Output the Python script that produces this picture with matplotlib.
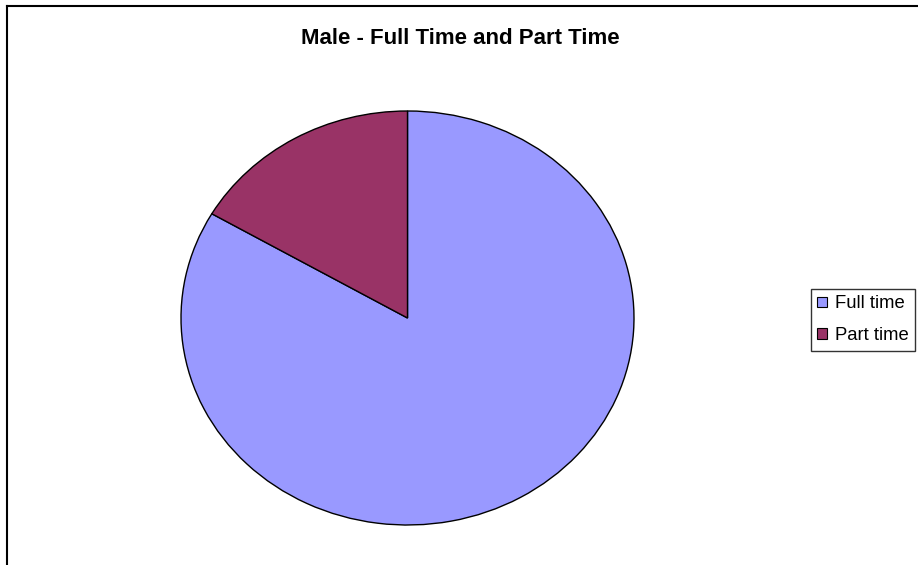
import matplotlib
matplotlib.use("Agg")
import matplotlib.pyplot as plt
from matplotlib.patches import Patch
from matplotlib.lines import Line2D

# ---- data ----
LABELS = ["Full time", "Part time"]
SHARES = [83.4, 16.6]          # percent
COLORS = ["#9999FF", "#993366"]
TITLE = "Male - Full Time and Part Time"

W, H = 918, 565
plt.rcParams["font.family"] = ["Liberation Sans", "DejaVu Sans"]
fig = plt.figure(figsize=(W / 100, H / 100), dpi=100)

# pie axes placed to match the stretched (elliptical) Excel pie
left, right, top, bottom = 181, 634, 111, 525
ax = fig.add_axes([left / W, 1 - bottom / H, (right - left) / W, (bottom - top) / H])
ax.pie(SHARES, colors=COLORS, startangle=90, counterclock=False,
       wedgeprops=dict(edgecolor="black", linewidth=1.0))
ax.set_aspect("auto")
ax.set_xlim(-1, 1)
ax.set_ylim(-1, 1)
ax.axis("off")

fig.text(460 / W, 1 - 38 / H, TITLE, ha="center", va="center",
         fontsize=16, fontweight="bold")

# chart-area border (only top and left visible, rest is cropped)
fig.add_artist(Line2D([7 / W, 1], [1 - 6 / H, 1 - 6 / H], color="black", lw=1.5))
fig.add_artist(Line2D([7 / W, 7 / W], [0, 1 - 6 / H], color="black", lw=1.5))

handles = [Patch(facecolor=c, edgecolor="black", lw=0.8) for c in COLORS]
leg = fig.legend(handles, LABELS, loc="upper left",
                 bbox_to_anchor=(811 / W, 1 - 289 / H), borderaxespad=0,
                 fontsize=13.3, handlelength=0.5, handleheight=0.5,
                 handletextpad=0.45, borderpad=0.35, labelspacing=0.8,
                 fancybox=False, frameon=True)
leg.get_frame().set_edgecolor("black")
leg.get_frame().set_linewidth(1.0)

fig.savefig("out.png", dpi=100)
